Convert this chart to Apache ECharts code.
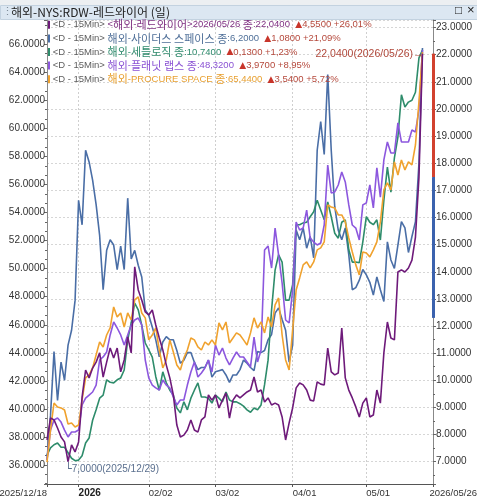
<!DOCTYPE html>
<html><head><meta charset="utf-8">
<script src="https://cdn.jsdelivr.net/npm/echarts@6/dist/echarts.min.js"></script>
<style>html,body{margin:0;padding:0;background:#fff}#c{width:477px;height:500px}</style>
</head><body><div id="c"></div>
<script>
const dates = ['2025/12/18','2025/12/19','2025/12/22','2025/12/23','2025/12/24','2025/12/26','2025/12/29','2025/12/30','2025/12/31',
'2026/01/02','2026/01/05','2026/01/06','2026/01/07','2026/01/08','2026/01/09','2026/01/12','2026/01/13','2026/01/14','2026/01/15','2026/01/16','2026/01/20','2026/01/21','2026/01/22','2026/01/23','2026/01/26','2026/01/27','2026/01/28','2026/01/29','2026/01/30',
'2026/02/02','2026/02/03','2026/02/04','2026/02/05','2026/02/06','2026/02/09','2026/02/10','2026/02/11','2026/02/12','2026/02/13','2026/02/17','2026/02/18','2026/02/19','2026/02/20','2026/02/23','2026/02/24','2026/02/25','2026/02/26','2026/02/27',
'2026/03/02','2026/03/03','2026/03/04','2026/03/05','2026/03/06','2026/03/09','2026/03/10','2026/03/11','2026/03/12','2026/03/13','2026/03/16','2026/03/17','2026/03/18','2026/03/19','2026/03/20','2026/03/23','2026/03/24','2026/03/25','2026/03/26','2026/03/27','2026/03/30','2026/03/31',
'2026/04/01','2026/04/02','2026/04/06','2026/04/07','2026/04/08','2026/04/09','2026/04/10','2026/04/13','2026/04/14','2026/04/15','2026/04/16','2026/04/17','2026/04/20','2026/04/21','2026/04/22','2026/04/23','2026/04/24','2026/04/27','2026/04/28','2026/04/29','2026/04/30',
'2026/05/01','2026/05/04','2026/05/05','2026/05/06','2026/05/07','2026/05/08','2026/05/11','2026/05/12','2026/05/13','2026/05/14','2026/05/15','2026/05/18','2026/05/19','2026/05/20','2026/05/21','2026/05/22','2026/05/26'];
const padCats = ['pad1','pad2','pad3'];

const redwire = [7.80,8.61,8.54,8.24,7.91,7.73,7.00,7.62,7.36,7.73,
9.38,10.38,10.09,10.45,10.67,11.01,10.12,10.67,11.19,10.82,
11.19,10.31,10.75,11.60,11.01,14.18,13.33,12.96,12.52,12.41,
12.59,12.04,11.56,11.12,10.56,10.09,9.46,8.35,7.91,7.98,
8.17,8.54,8.17,8.09,8.54,8.65,9.46,9.27,9.46,8.98,
9.27,9.53,8.61,9.27,9.46,9.35,9.46,9.57,9.64,10.12,
9.57,9.64,9.20,9.35,9.09,9.16,9.09,8.65,7.80,8.43,
8.98,9.72,9.90,9.83,9.64,9.27,9.24,9.94,9.86,9.83,
11.19,10.31,10.20,10.27,11.93,10.09,9.64,9.35,9.02,8.65,
9.16,9.35,8.65,8.72,9.64,9.16,11.01,12.15,11.56,11.49,
13.99,14.07,13.99,14.14,14.43,15.28,17.49,22.04];

const sidus = [2.33,2.75,3.35,2.89,3.25,3.08,3.41,3.55,3.83,4.77,
4.54,5.24,5.13,4.96,4.73,4.44,3.93,4.30,4.40,4.35,
4.12,4.34,4.12,4.79,4.22,4.30,4.16,4.05,3.74,3.69,
3.58,3.46,3.30,3.44,3.49,3.46,3.46,3.36,3.24,3.27,
3.34,3.34,3.25,3.18,3.20,3.20,3.27,3.11,3.16,3.17,
3.18,3.13,3.06,3.13,3.13,3.18,3.27,3.24,3.20,3.17,
3.35,3.34,3.36,3.46,3.51,3.71,3.76,3.65,3.55,3.25,
3.41,4.49,4.40,4.51,4.32,4.43,4.23,5.24,5.51,5.20,
5.95,5.24,4.71,4.49,4.40,4.51,4.26,3.93,3.95,4.02,
4.12,4.07,4.00,3.88,4.05,3.93,3.82,4.38,4.21,4.13,
4.35,4.57,4.51,4.28,4.43,4.57,5.12,6.20];

const satellogic = [4.13,4.25,4.30,4.33,4.26,4.26,4.17,4.08,4.04,4.05,
4.12,4.33,4.41,4.70,4.87,5.06,5.11,5.36,5.32,5.31,
5.36,5.39,5.52,6.01,6.29,6.61,6.50,6.25,5.96,5.85,
5.73,5.41,5.19,5.49,5.31,5.19,5.11,4.90,4.82,5.00,
4.87,5.06,5.19,5.31,5.08,5.08,5.06,4.98,5.11,5.06,
5.00,5.16,5.03,5.00,5.00,4.97,4.93,4.87,4.83,4.90,
4.87,4.95,5.28,5.68,6.50,7.15,7.40,7.28,6.66,6.66,
6.91,7.89,7.89,7.92,7.93,8.02,8.10,8.29,8.13,7.97,
8.26,8.02,7.75,7.67,7.93,7.97,7.48,7.28,7.28,7.27,
7.61,8.02,7.93,7.89,7.97,7.64,8.29,8.83,8.42,8.98,
9.32,10.01,9.81,9.89,9.92,10.05,10.61,10.74];

const planet = [21.17,23.15,23.82,23.95,23.68,23.15,22.69,23.02,23.02,23.15,
24.81,25.27,25.47,25.67,26.13,27.79,27.99,28.32,29.45,30.31,
29.91,29.45,28.78,29.45,30.11,30.44,30.57,30.11,27.79,26.60,
26.13,25.94,25.80,26.47,26.13,25.94,25.34,24.81,25.14,25.14,
26.13,27.00,27.66,26.66,26.93,27.26,27.79,27.00,28.78,28.12,
28.58,27.92,27.46,27.92,28.32,27.99,27.99,27.66,27.33,29.31,
27.66,28.45,35.07,35.34,33.88,36.53,34.74,32.89,30.44,30.24,
32.43,36.93,36.40,36.53,37.72,35.87,35.60,35.41,35.54,36.73,
40.70,38.85,38.92,39.38,40.24,39.58,38.06,36.73,36.53,35.74,
38.06,38.19,39.38,37.86,40.51,38.58,41.04,42.23,41.50,41.50,
43.49,42.23,42.23,42.23,43.02,42.89,44.35,48.32];

const procure = [36.21,38.50,40.42,40.14,40.07,39.92,38.92,39.00,38.71,38.85,
40.64,42.21,42.42,42.92,43.85,44.77,44.42,45.27,45.77,47.27,
46.56,46.84,45.84,46.84,46.34,47.77,47.98,46.84,46.49,44.92,
45.27,45.77,44.20,42.92,43.49,44.92,44.06,43.13,42.78,43.63,
44.20,45.06,44.92,44.42,44.20,44.77,44.56,44.92,44.56,46.13,
45.63,46.20,44.70,45.06,45.42,45.27,44.92,44.56,45.42,46.49,
45.77,46.20,45.42,46.56,45.84,47.41,47.91,45.27,43.49,42.78,
45.63,48.48,49.34,50.27,50.48,50.05,50.48,51.34,51.48,51.91,
54.54,54.40,54.33,53.83,53.83,53.33,52.19,51.19,50.27,49.55,
51.19,51.12,50.84,51.34,51.91,53.33,55.61,56.11,55.61,57.61,
56.68,57.75,57.04,57.61,57.40,58.82,61.90,65.44];

const tickDates = ['2026/01/02','2026/02/02','2026/03/02','2026/04/01','2026/05/01'];
const tickTexts = ['2026','02/02','03/02','04/01','05/01'];
const endLabel = '2026/05/26';

const legendNames = ['<해외-레드와이어>2026/05/26 종:22,0400','해외-사이더스 스페이스 종:6,2000','해외-세틀로직 종:10,7400','해외-플래닛 랩스 종:48,3200','해외-PROCURE SPACE 종:65,4400'];
const legendChanges = ['4,5500 +26,01%','1,0800 +21,09%','0,1300 +1,23%','3,9700 +8,95%','3,5400 +5,72%'];

const lineColors = ['#6e1a7a','#4a6ea6','#2e8c6b','#8c57de','#f0a22e'];
const textColors = ['#7e2f80','#4f6f98','#2f8b6d','#8a52d4','#e8a030'];
const LAT = "'Liberation Sans','DejaVu Sans',sans-serif";
const KOR = "'Noto Sans CJK KR',sans-serif";
const LH = 13.6;

const cats = dates.map((d, i) => i === 0 ? {value: d, textStyle: {align: 'right'}} : d).concat(padCats);
const lastIdx = dates.length - 1 + padCats.length;
const endLabelIdx = lastIdx - 1;
const labelIdx = new Set([0, endLabelIdx].concat(tickDates.map(d => dates.indexOf(d))));
const tickIdx = new Set([0, lastIdx].concat(tickDates.map(d => dates.indexOf(d))));
const gridIdx = new Set(tickDates.map(d => dates.indexOf(d)));

const rich = {
  g: {color: '#5d5d5d', fontSize: 9.5, fontFamily: LAT, lineHeight: LH},
  up: {color: '#c8352a', fontSize: 9, fontFamily: "'DejaVu Sans',sans-serif", lineHeight: LH},
  r: {color: '#b5493c', fontSize: 9.5, fontFamily: LAT, lineHeight: LH}
};
function runs(str, i) {
  return str.split(/([\uAC00-\uD7A3]+)/).filter(s => s.length).map(s =>
    /[\uAC00-\uD7A3]/.test(s) ? `{h${i}|${s}}` : `{a${i}|${s}}`).join('');
}
const legendLines = legendNames.map((n, i) => {
  rich['k' + i] = {backgroundColor: lineColors[i], width: 2, height: 8, lineHeight: LH};
  rich['a' + i] = {color: textColors[i], fontSize: 9.5, fontFamily: LAT, lineHeight: LH};
  rich['h' + i] = {color: textColors[i], fontSize: 11, fontFamily: KOR, lineHeight: LH};
  return `{k${i}|}{g| <D - 15Min> }` + runs(n, i) + `{g|  }{up|▲}{r|${legendChanges[i]}}`;
});

const chart = echarts.init(document.getElementById('c'));
chart.setOption({
  animation: false,
  backgroundColor: '#fff',
  graphic: [
    {type: 'rect', left: 0, top: 0, shape: {width: 477, height: 5}, style: {fill: '#eceff2'}},
    {type: 'rect', left: 0, top: 5, shape: {width: 477, height: 14}, style: {fill: '#dce7f2', stroke: '#c3d2e0'}},
    {type: 'text', left: 2, top: 6, style: {text: '⋮', fill: '#7f8c99', font: '11px sans-serif'}},
    {type: 'text', left: 455, top: 5, style: {text: '□', fill: '#222', font: '12px sans-serif'}},
    {type: 'text', left: 467, top: 4, style: {text: '×', fill: '#222', font: '13px sans-serif'}}
  ],
  title: [
    {text: '해외-NYS:RDW-레드와이어 (일)', left: 11, top: 5, padding: 0,
     textStyle: {fontSize: 12, fontWeight: 'normal', color: '#222', fontFamily: KOR, lineHeight: 14}},
    {text: legendLines.join('\n'), left: 48, top: 18, padding: 0,
     textStyle: {fontSize: 11, fontWeight: 'normal', lineHeight: LH, fontFamily: LAT, rich: rich}}
  ],
  grid: {left: 47, right: 44, top: 20, bottom: 16, containLabel: false, outerBoundsMode: 'none'},
  xAxis: {
    type: 'category', data: cats, boundaryGap: false,
    axisLine: {lineStyle: {color: '#555', width: 1}},
    axisTick: {show: true, length: 3, interval: (i) => tickIdx.has(i), lineStyle: {color: '#555'}},
    axisLabel: {
      interval: (i) => labelIdx.has(i), align: 'left', margin: 4, color: '#333', fontSize: 9.5, fontFamily: LAT,
      formatter: (v) => {
        const k = tickDates.indexOf(v);
        if (k === 0) return '{b|' + tickTexts[k] + '}';
        if (k > 0) return tickTexts[k];
        if (v === cats[endLabelIdx]) return endLabel;
        return v;
      },
      rich: {b: {fontWeight: 'bold', color: '#222', fontSize: 10, fontFamily: LAT}}
    },
    splitLine: {show: true, interval: (i) => gridIdx.has(i), lineStyle: {color: '#cfcfcf', type: [2, 2]}}
  },
  yAxis: [
    {type: 'value', position: 'left', min: 34.645, max: 67.73, minInterval: 2, maxInterval: 2,
     axisLine: {show: true, lineStyle: {color: '#888'}},
     axisTick: {show: true, length: 3, lineStyle: {color: '#666'}},
     minorTick: {show: true, splitNumber: 3, length: 2, lineStyle: {color: '#666'}},
     axisLabel: {showMinLabel: false, showMaxLabel: false, margin: 2, color: '#333', fontSize: 10, fontFamily: LAT, formatter: (v) => v.toFixed(4)},
     splitLine: {show: false}},
    {type: 'value', position: 'right', min: 6.178, max: 23.28, minInterval: 1, maxInterval: 1,
     axisLine: {show: true, lineStyle: {color: '#888'}},
     axisTick: {show: true, length: 3, lineStyle: {color: '#666'}},
     minorTick: {show: true, splitNumber: 2, length: 2, lineStyle: {color: '#666'}},
     axisLabel: {showMinLabel: false, showMaxLabel: false, margin: 3, color: '#333', fontSize: 10, fontFamily: LAT, formatter: (v) => v.toFixed(4)},
     splitLine: {show: true, lineStyle: {color: '#d6d6d6', type: [2, 2]}}},
    {type: 'value', show: false, min: 2.106, max: 6.463},
    {type: 'value', show: false, min: 3.660, max: 11.229},
    {type: 'value', show: false, min: 19.578, max: 50.307}
  ],
  series: [
    {name: '사이더스 스페이스', type: 'line', data: sidus, yAxisIndex: 2, symbol: 'none', lineStyle: {color: lineColors[1], width: 1.6}},
    {name: '세틀로직', type: 'line', data: satellogic, yAxisIndex: 3, symbol: 'none', lineStyle: {color: lineColors[2], width: 1.6}},
    {name: '플래닛 랩스', type: 'line', data: planet, yAxisIndex: 4, symbol: 'none', lineStyle: {color: lineColors[3], width: 1.6}},
    {name: 'PROCURE SPACE', type: 'line', data: procure, yAxisIndex: 0, symbol: 'none', lineStyle: {color: lineColors[4], width: 1.6}},
    {name: '레드와이어', type: 'line', data: redwire, yAxisIndex: 1, symbol: 'none', lineStyle: {color: lineColors[0], width: 1.6},
     markLine: {
       silent: true, symbol: ['none', 'none'], animation: false,
       data: [
         {yAxis: redwire[redwire.length - 1], lineStyle: {opacity: 0},
          label: {show: true, position: 'end', distance: 1, formatter: '22,0400\n+26,01%', color: '#fff',
                  backgroundColor: '#d2412f', padding: [1, 2, 0, 2], fontSize: 10, lineHeight: 10, fontFamily: LAT}},
         [{coord: [lastIdx, redwire[redwire.length - 2]], lineStyle: {color: '#d2412f', width: 3, type: 'solid'}, label: {show: false}},
          {coord: [lastIdx, redwire[redwire.length - 1]]}],
         [{coord: [lastIdx, 12.3], lineStyle: {color: '#3b62ae', width: 3, type: 'solid'}, label: {show: false}},
          {coord: [lastIdx, redwire[redwire.length - 2]]}]
       ]
     },
     markPoint: {
       silent: true, symbol: 'circle', symbolSize: 2, itemStyle: {color: 'rgba(0,0,0,0)'},
       data: [
         {coord: [dates.length - 1, redwire[redwire.length - 1]],
          label: {show: true, position: 'left', distance: 0, offset: [2, 0], formatter: '22,0400(2026/05/26)→', color: '#b0483b', fontSize: 10.5, fontFamily: LAT}},
         {coord: [dates.indexOf('2025/12/29'), 7.0],
          label: {show: true, position: [-2, 3], align: 'left', verticalAlign: 'top', formatter: '{c|└}{t|7,0000(2025/12/29)}',
                  rich: {c: {fontFamily: "'DejaVu Sans Mono','DejaVu Sans',monospace", fontSize: 11, color: '#5a6f8e'},
                         t: {fontFamily: LAT, fontSize: 10, color: '#5a6f8e'}}}}
       ]
     }}
  ]
});
</script></body></html>
